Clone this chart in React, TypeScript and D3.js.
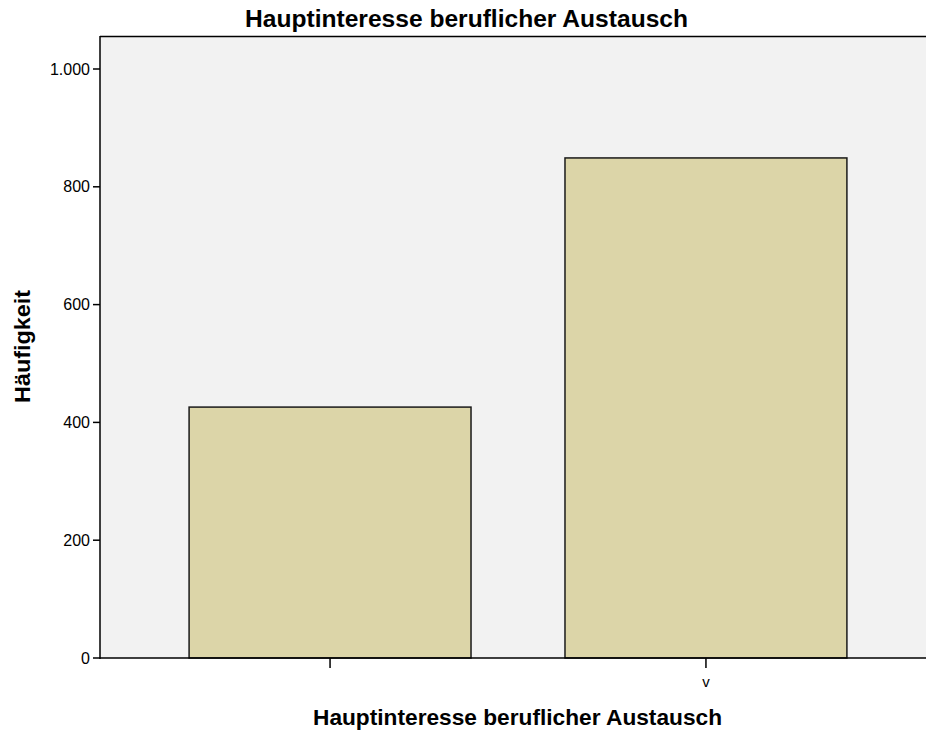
import React from "react";
import * as d3 from "d3";

const categories = ["", "v"];
const counts = [426, 849];
const yTicks = [0, 200, 400, 600, 800, 1000];
const title = "Hauptinteresse beruflicher Austausch";
const xTitle = "Hauptinteresse beruflicher Austausch";
const yTitle = "Häufigkeit";

const W = 927;
const H = 733;
const left = 100;
const top = 36;
const bottom = 658;
const right = 926;

export default function App() {
  const x = d3
    .scaleBand<string>()
    .domain(categories)
    .range([left, 936])
    .paddingInner(0.25)
    .paddingOuter(0.237);
  const y = d3.scaleLinear().domain([0, 1000]).range([bottom, 69]);
  const fmt = (v: number) => d3.format(",")(v).replace(/,/g, ".");
  const font = "Liberation Sans, Arial, sans-serif";
  return (
    <svg
      width={W}
      height={H}
      style={{ position: "absolute", left: 0, top: 0 }}
      fontFamily={font}
    >
      <rect x={0} y={0} width={W} height={H} fill="#ffffff" />
      <rect x={left} y={top} width={right - left} height={bottom - top} fill="#f2f2f2" />
      <line x1={left} x2={right} y1={top + 0.5} y2={top + 0.5} stroke="#000" strokeWidth={1.5} />
      {categories.map((c, i) => (
        <rect
          key={i}
          x={x(c)!}
          y={y(counts[i])}
          width={x.bandwidth()}
          height={bottom - y(counts[i])}
          fill="#dcd5a8"
          stroke="#1a1a1a"
          strokeWidth={1.5}
        />
      ))}
      <line x1={left} x2={left} y1={top} y2={bottom + 1} stroke="#000" strokeWidth={1.5} />
      <line x1={left} x2={right} y1={bottom} y2={bottom} stroke="#000" strokeWidth={1.5} />
      {yTicks.map((t) => (
        <g key={t}>
          <line x1={left - 7} x2={left} y1={y(t)} y2={y(t)} stroke="#000" strokeWidth={1.5} />
          <text x={left - 10} y={y(t)} dy="0.35em" textAnchor="end" fontSize={16} fill="#000">
            {fmt(t)}
          </text>
        </g>
      ))}
      {categories.map((c, i) => {
        const cx = x(c)! + x.bandwidth() / 2;
        return (
          <g key={"xt" + i}>
            <line x1={cx} x2={cx} y1={bottom} y2={bottom + 10} stroke="#000" strokeWidth={1.5} />
            <text x={cx} y={bottom + 29} textAnchor="middle" fontSize={15} fill="#000">
              {c}
            </text>
          </g>
        );
      })}
      <text
        x={466.5}
        y={27}
        textAnchor="middle"
        fontSize={23}
        fontWeight="bold"
        fill="#000"
        textLength={443}
        lengthAdjust="spacingAndGlyphs"
      >
        {title}
      </text>
      <text
        x={517.5}
        y={725}
        textAnchor="middle"
        fontSize={22}
        fontWeight="bold"
        fill="#000"
        textLength={409}
        lengthAdjust="spacingAndGlyphs"
      >
        {xTitle}
      </text>
      <text
        transform={`translate(30, ${346.5}) rotate(-90)`}
        textAnchor="middle"
        fontSize={22}
        fontWeight="bold"
        fill="#000"
        textLength={113}
        lengthAdjust="spacingAndGlyphs"
      >
        {yTitle}
      </text>
    </svg>
  );
}
